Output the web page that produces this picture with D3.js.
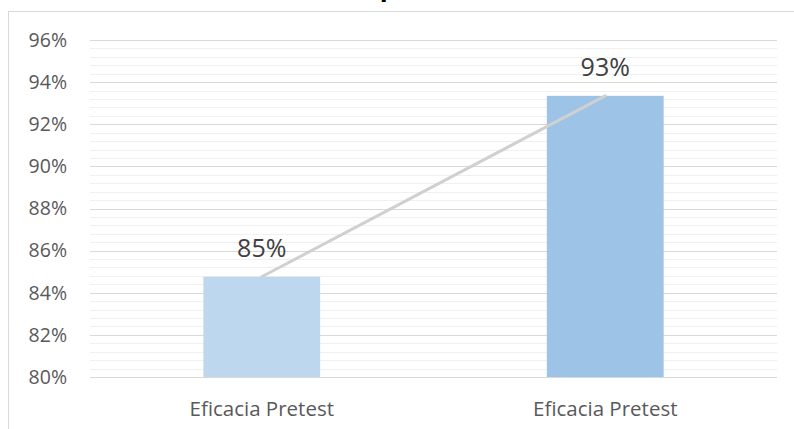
<!DOCTYPE html>
<html>
<head>
<meta charset="utf-8">
<script src="https://cdn.jsdelivr.net/npm/d3@7/dist/d3.min.js"></script>
<style>
  html, body { margin: 0; padding: 0; background: #fff; }
  svg { display: block; }
</style>
</head>
<body>
<script>
const categories = ["Eficacia Pretest", "Eficacia Pretest"];
const values = [0.8476, 0.9335];
const barColors = ["#BDD7EE", "#9DC3E6"];
const yTicks = [0.80, 0.82, 0.84, 0.86, 0.88, 0.90, 0.92, 0.94, 0.96];
const titleText = "p";

const W = 794, H = 429;
const margin = { left: 90, right: 17, top: 40, bottom: 52 };

const svg = d3.select("body").append("svg").attr("width", W).attr("height", H);

// chart frame (extends beyond the visible area on right/bottom)
svg.append("rect").attr("x", 8.5).attr("y", 11.5).attr("width", 900).attr("height", 500)
  .attr("fill", "none").attr("stroke", "#d9d9d9").attr("stroke-width", 1);

// partly cut-off title (only its descender shows, as in the reference)
svg.append("text").attr("x", 388).attr("y", -4).attr("text-anchor", "middle")
  .attr("font-family", "Open Sans, sans-serif").attr("font-weight", "bold")
  .attr("font-size", 26).attr("fill", "#000").text(titleText);

const x = d3.scaleBand().domain(d3.range(categories.length))
  .range([margin.left, W - margin.right]).paddingInner(0.66).paddingOuter(0.33);
const y = d3.scaleLinear().domain([0.80, 0.96]).range([H - margin.bottom, margin.top]);

// minor gridlines
const minor = d3.range(0, 40).map(i => 0.80 + i * 0.004).filter((v, i) => i % 5 !== 0);
svg.append("g").selectAll("line").data(minor).join("line")
  .attr("x1", margin.left).attr("x2", W - margin.right)
  .attr("y1", d => Math.round(y(d)) + 0.5).attr("y2", d => Math.round(y(d)) + 0.5)
  .attr("stroke", "#f0f0f0").attr("stroke-width", 1);

// major gridlines
svg.append("g").selectAll("line").data(yTicks).join("line")
  .attr("x1", margin.left).attr("x2", W - margin.right)
  .attr("y1", d => Math.round(y(d)) + 0.5).attr("y2", d => Math.round(y(d)) + 0.5)
  .attr("stroke", "#d9d9d9").attr("stroke-width", 1);

// y tick labels
svg.append("g").selectAll("text").data(yTicks).join("text")
  .attr("x", 67).attr("y", d => y(d)).attr("dy", "0.35em")
  .attr("text-anchor", "end")
  .attr("font-family", "Open Sans, sans-serif").attr("font-size", 19.5)
  .attr("fill", "#595959").text(d3.format(".0%"));

// bars
svg.append("g").selectAll("rect").data(values).join("rect")
  .attr("x", (d, i) => x(i)).attr("width", x.bandwidth())
  .attr("y", d => y(d)).attr("height", d => y(0.80) - y(d))
  .attr("fill", (d, i) => barColors[i]);

// line connecting bar tops
const line = d3.line().x((d, i) => x(i) + x.bandwidth() / 2).y(d => y(d));
svg.append("path").datum(values).attr("d", line)
  .attr("fill", "none").attr("stroke", "#d0d0d0").attr("stroke-width", 3)
  .attr("stroke-linecap", "round");

// data labels
svg.append("g").selectAll("text").data(values).join("text")
  .attr("x", (d, i) => x(i) + x.bandwidth() / 2).attr("y", d => y(d) - 20)
  .attr("text-anchor", "middle")
  .attr("font-family", "Open Sans, sans-serif").attr("font-size", 25)
  .attr("fill", "#404040").text(d3.format(".0%"));

// category labels
svg.append("g").selectAll("text").data(categories).join("text")
  .attr("x", (d, i) => x(i) + x.bandwidth() / 2).attr("y", 416)
  .attr("text-anchor", "middle")
  .attr("font-family", "Open Sans, sans-serif").attr("font-size", 20.5)
  .attr("fill", "#595959").text(d => d);
</script>
</body>
</html>
